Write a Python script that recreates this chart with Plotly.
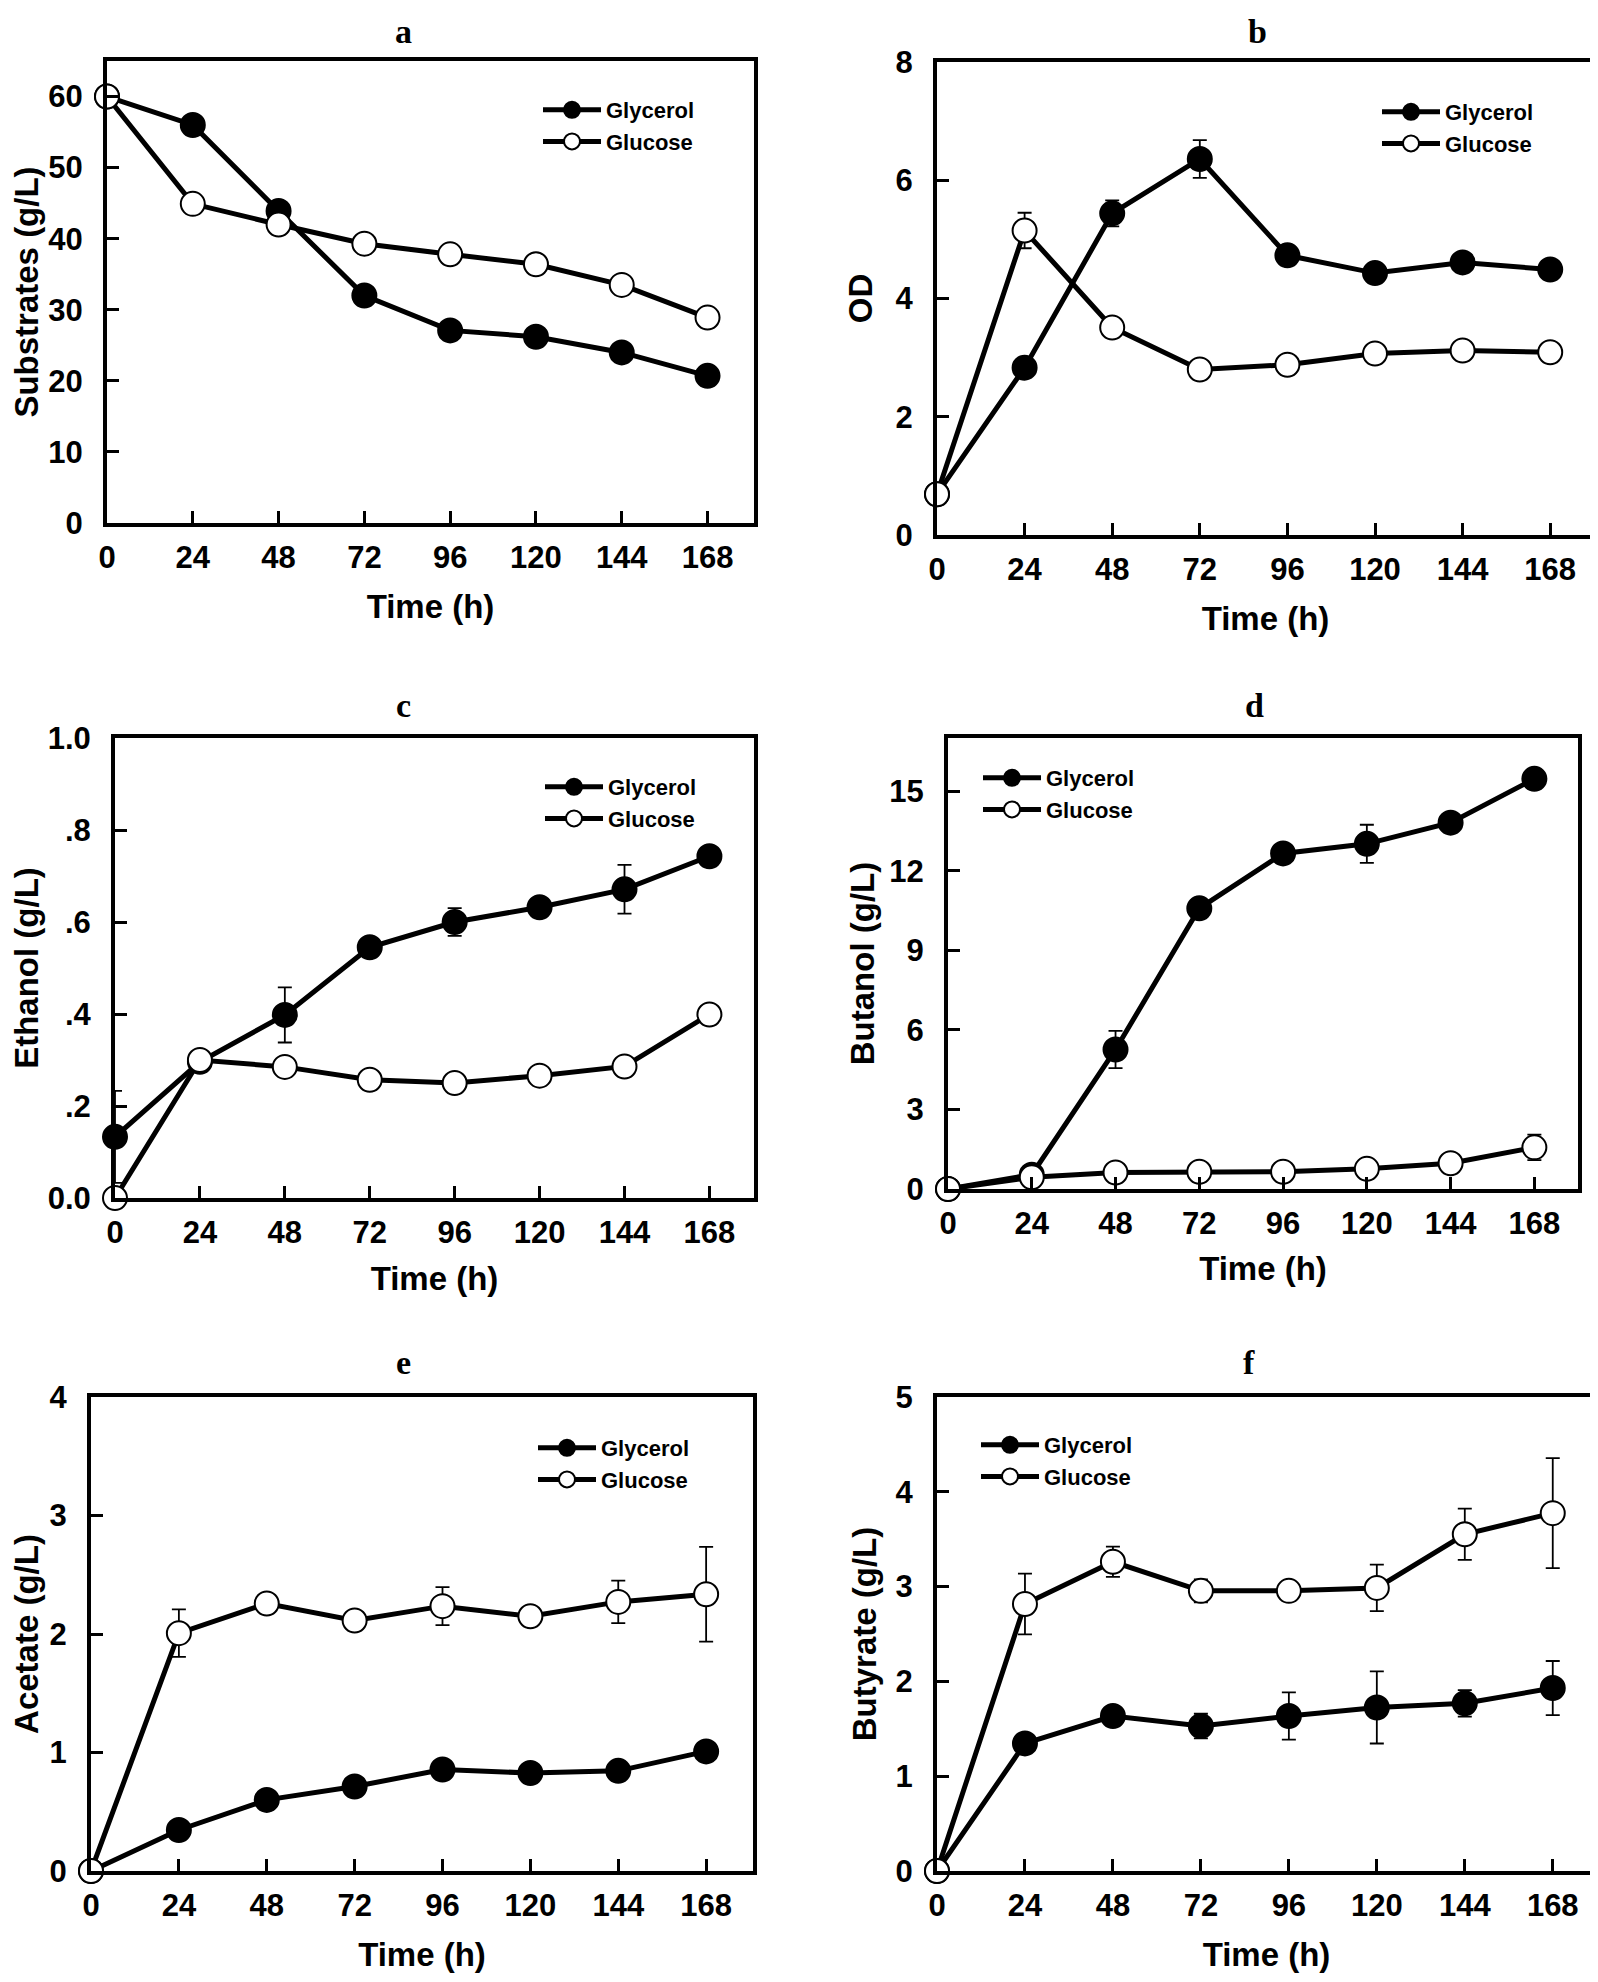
import plotly.graph_objects as go

# ---------------- data ----------------
time_h = [0, 24, 48, 72, 96, 120, 144, 168]
x_tick_vals = [0, 24, 48, 72, 96, 120, 144, 168]
series_names = ["Glycerol", "Glucose"]
panel_letters = ["a", "b", "c", "d", "e", "f"]
y_titles = ["Substrates (g/L)", "OD", "Ethanol (g/L)", "Butanol (g/L)",
            "Acetate (g/L)", "Butyrate (g/L)"]

# a: substrates
substrates_glycerol = [60, 56.0, 43.9, 32.0, 27.1, 26.2, 24.0, 20.7]
substrates_glycerol_err = [0, 0, 0, 1.3, 0, 0, 0, 0]
substrates_glucose = [60, 44.9, 42.0, 39.3, 37.8, 36.4, 33.5, 28.9]
substrates_glucose_err = [0, 1.3, 0, 0, 0, 0, 0, 0]

# b: OD
od_glycerol = [0.69, 2.83, 5.44, 6.36, 4.73, 4.43, 4.61, 4.49]
od_glycerol_err = [0, 0, 0.22, 0.32, 0, 0, 0, 0]
od_glucose = [0.69, 5.15, 3.51, 2.80, 2.88, 3.07, 3.12, 3.09]
od_glucose_err = [0, 0.30, 0, 0, 0, 0, 0, 0]

# c: ethanol
ethanol_glycerol = [0.133, 0.296, 0.398, 0.545, 0.600, 0.632, 0.671, 0.743]
ethanol_glycerol_err = [0.10, 0, 0.06, 0.01, 0.03, 0, 0.053, 0.02]
ethanol_glucose = [0.0, 0.300, 0.285, 0.257, 0.250, 0.266, 0.286, 0.399]
ethanol_glucose_err = [0, 0, 0, 0, 0, 0, 0, 0]

# d: butanol
butanol_glycerol = [0.0, 0.54, 5.26, 10.58, 12.65, 13.01, 13.81, 15.46]
butanol_glycerol_err = [0, 0, 0.70, 0, 0, 0.72, 0, 0]
butanol_glucose = [0.0, 0.44, 0.62, 0.65, 0.65, 0.76, 0.97, 1.57]
butanol_glucose_err = [0, 0, 0, 0, 0, 0, 0, 0.48]

# e: acetate
acetate_glycerol = [0.0, 0.346, 0.60, 0.713, 0.856, 0.827, 0.845, 1.009]
acetate_glycerol_err = [0, 0, 0, 0, 0, 0, 0, 0]
acetate_glucose = [0.0, 2.007, 2.257, 2.114, 2.235, 2.15, 2.271, 2.335]
acetate_glucose_err = [0, 0.20, 0, 0, 0.16, 0, 0.18, 0.40]

# f: butyrate
butyrate_glycerol = [0.0, 1.346, 1.635, 1.529, 1.635, 1.725, 1.769, 1.930]
butyrate_glycerol_err = [0, 0, 0, 0.13, 0.25, 0.38, 0.14, 0.285]
butyrate_glucose = [0.0, 2.816, 3.262, 2.955, 2.955, 2.986, 3.552, 3.775]
butyrate_glucose_err = [0, 0.32, 0.16, 0.12, 0, 0.245, 0.27, 0.58]

y_ranges = [[0, 65], [0, 8], [0, 1.0], [0, 17], [0, 4], [0, 5]]
x_ranges = [[0, 181], [0, 180], [0, 180.6], [0, 180.5], [0, 180.8], [0, 179.8]]
y_tick_vals = [[0, 10, 20, 30, 40, 50, 60], [0, 2, 4, 6, 8],
               [0, 0.2, 0.4, 0.6, 0.8, 1.0], [0, 3, 6, 9, 12, 15],
               [0, 1, 2, 3, 4], [0, 1, 2, 3, 4, 5]]
y_tick_text = [["0", "10", "20", "30", "40", "50", "60"], ["0", "2", "4", "6", "8"],
               ["0.0", ".2", ".4", ".6", ".8", "1.0"], ["0", "3", "6", "9", "12", "15"],
               ["0", "1", "2", "3", "4"], ["0", "1", "2", "3", "4", "5"]]

panels = [
    (substrates_glycerol, substrates_glycerol_err, substrates_glucose, substrates_glucose_err),
    (od_glycerol, od_glycerol_err, od_glucose, od_glucose_err),
    (ethanol_glycerol, ethanol_glycerol_err, ethanol_glucose, ethanol_glucose_err),
    (butanol_glycerol, butanol_glycerol_err, butanol_glucose, butanol_glucose_err),
    (acetate_glycerol, acetate_glycerol_err, acetate_glucose, acetate_glucose_err),
    (butyrate_glycerol, butyrate_glycerol_err, butyrate_glucose, butyrate_glucose_err),
]

# ---------------- layout geometry (figure pixels; page adds 8px body margin) ----------------
W, H = 1598, 1982
boxes = [  # left, right, top, bottom
    (99, 746, 53, 515),
    (929, 1586, 54, 527),
    (107, 746, 730, 1190),
    (940, 1570, 730, 1181),
    (83, 745, 1389, 1863),
    (929, 1588, 1389, 1863),
]
letter_pos = [(395, 23), (1249, 23), (395, 698), (1246, 698), (395, 1354), (1241, 1354)]
legend_pos = [(530, 81), (1369, 83), (532, 758), (970, 749), (525, 1419), (968, 1416)]
y_standoff = [25, 14, 14, 6, 16, 10]
x_standoff = [22, 22, 19, 18, 22, 22]

SANS = "Liberation Sans, Arial, sans-serif"
SERIF = "Liberation Serif, Times New Roman, serif"

fig = go.Figure()
layout = dict(
    width=W, height=H, margin=dict(l=0, r=0, t=0, b=0, autoexpand=False),
    paper_bgcolor="white", plot_bgcolor="white", showlegend=True,
    annotations=[],
)

for i, (gly, gly_e, glu, glu_e) in enumerate(panels):
    n = "" if i == 0 else str(i + 1)
    xa, ya = "x" + n, "y" + n
    leg = "legend" + n
    for name, vals, errs, fill in [("Glycerol", gly, gly_e, "black"),
                                   ("Glucose", glu, glu_e, "white")]:
        fig.add_trace(go.Scatter(
            x=time_h, y=vals, name=name, mode="lines+markers",
            xaxis=xa, yaxis=ya, legend=leg, cliponaxis=False,
            line=dict(color="black", width=5),
            marker=dict(size=24, color=fill, line=dict(color="black", width=2)),
            error_y=dict(type="data", array=errs, visible=True, color="black",
                         thickness=1.8, width=7),
        ))
    l, r, t, b = boxes[i]
    axis_common = dict(
        showline=True, linewidth=4, linecolor="black", mirror=True,
        ticks="inside", ticklen=12, tickwidth=3, tickcolor="black",
        showgrid=False, zeroline=False, automargin=False,
        tickfont=dict(family=SANS, size=31, color="black", weight="bold"),
    )
    layout["xaxis" + n] = dict(
        axis_common, domain=[l / W, r / W], anchor=ya, range=x_ranges[i],
        tickvals=x_tick_vals, ticklabelstandoff=4,
        title=dict(text="Time (h)", standoff=x_standoff[i],
                   font=dict(family=SANS, size=33, color="black", weight="bold")),
    )
    layout["yaxis" + n] = dict(
        axis_common, domain=[1 - b / H, 1 - t / H], anchor=xa, range=y_ranges[i],
        tickvals=y_tick_vals[i], ticktext=y_tick_text[i], ticklabelstandoff=14,
        title=dict(text=y_titles[i], standoff=y_standoff[i],
                   font=dict(family=SANS, size=33, color="black", weight="bold")),
    )
    lx, ly = legend_pos[i]
    layout[leg] = dict(
        x=lx / W, y=1 - ly / H, xanchor="left", yanchor="top",
        bgcolor="rgba(0,0,0,0)", borderwidth=0, itemwidth=58,
        font=dict(family=SANS, size=22, color="black", weight="bold"),
        tracegroupgap=0,
    )
    px, py = letter_pos[i]
    layout["annotations"].append(dict(
        text=panel_letters[i], x=px / W, y=1 - py / H, xref="paper", yref="paper",
        xanchor="center", yanchor="middle", showarrow=False,
        font=dict(family=SERIF, size=34, color="black", weight="bold"),
    ))

fig.update_layout(**layout)
fig.write_html("out.html")
